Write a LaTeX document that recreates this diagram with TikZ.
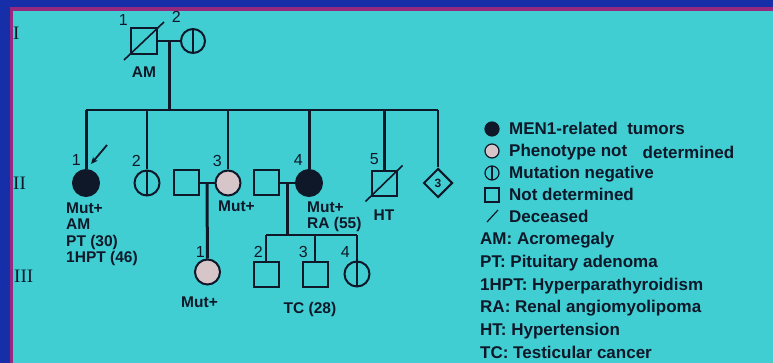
\documentclass[tikz,border=0pt]{standalone}
\usepackage{fontspec}
\setmainfont{Liberation Sans}
\newfontfamily\genfont{Liberation Serif}
\usetikzlibrary{arrows.meta,positioning,shapes.geometric}
\definecolor{pedbg}{RGB}{64,206,210}
\definecolor{pedframe}{RGB}{22,46,168}
\definecolor{pedrim}{RGB}{150,40,125}
\definecolor{pedink}{RGB}{14,24,40}
\definecolor{pedgrey}{RGB}{214,198,202}

\begin{document}
\begin{tikzpicture}[
    x=1pt, y=-1pt, color=pedink,
    male/.style={draw, rectangle, minimum size=25pt, inner sep=0pt, line width=2pt, fill=pedbg},
    female/.style={draw, circle, minimum size=25pt, inner sep=0pt, line width=2pt, fill=pedbg},
    affected/.style={female, fill=pedink},
    unknownfem/.style={female, fill=pedgrey},
    negfem/.style={female, path picture={\draw[line width=1.6pt] (path picture bounding box.north) -- (path picture bounding box.south);}},
    sibbox/.style={draw, diamond, minimum size=29pt, inner sep=0pt, line width=2pt, fill=pedbg, font=\fontsize{12}{12}\selectfont\bfseries},
    numlab/.style={inner sep=0pt, font=\fontsize{16}{16}\selectfont},
    trait/.style={inner sep=0pt, align=left, font=\fontsize{15.5}{16.5}\selectfont\bfseries},
    gen/.style={inner sep=0pt, anchor=west, font=\fontsize{19}{19}\selectfont\genfont},
    legtext/.style={inner sep=0pt, anchor=base west, font=\fontsize{17}{17}\selectfont\bfseries},
    kin/.style={line width=1.8pt},
    descent/.style={line width=3pt},
    deadslash/.style={line width=1.6pt},
    proband/.style={-{Stealth[length=7pt,width=6pt]}, line width=1.8pt}
]
\useasboundingbox (0,0) rectangle (773,363);
\fill[pedframe] (-5,-5) rectangle (780,370);
\fill[pedrim] (10,7) rectangle (780,370);
\fill[pedbg] (13,11) rectangle (780,370);

\node[gen] (genI) at (13,33) {I};
\node[gen] (genII) at (13,183) {II};
\node[gen] (genIII) at (14,276) {III};

\node[male, minimum size=26pt] (i1) at (144,41) {};
\node[negfem, minimum size=24pt] (i2) at (193,41) {};
\draw[deadslash] ([shift={(-6pt,-5pt)}]i1.south west) -- ([shift={(6pt,5pt)}]i1.north east);
\node[numlab, above left=1pt and 16pt of i1.north] {1};
\node[numlab, above left=5.5pt and 12pt of i2.north] {2};
\node[trait, below=11.5pt of i1] {AM};

\node[affected, minimum size=26pt] (f1) at (86,183) {};
\node[negfem] (f2) at (147,183) {};
\node[male] (h3) at (186,183) {};
\node[unknownfem] (f3) at (228,183) {};
\node[male] (h4) at (266,183) {};
\node[affected, minimum size=26pt] (f4) at (309,183) {};
\node[male] (m5) at (384,184) {};
\node[sibbox] (sib5) at (438,183) {3};
\draw[deadslash] ([shift={(-5pt,-4pt)}]m5.south west) -- ([shift={(5pt,5pt)}]m5.north east);
\node[numlab, above left=3pt and 5pt of f1.north] {1};
\node[numlab, above left=3pt and 6pt of f2.north] {2};
\node[numlab, above left=3pt and 6pt of f3.north] {3};
\node[numlab, above left=3pt and 6pt of f4.north] {4};
\node[numlab, above left=6pt and 5pt of m5.north] {5};
\node[trait, below right=5.5pt and -20pt of f1.south] {Mut+\\AM\\PT (30)\\1HPT (46)};
\node[trait, below right=4.5pt and -10pt of f3.south] {Mut+};
\node[trait, below right=4.5pt and -2pt of f4.south] {Mut+\\RA (55)};
\node[trait, below=12pt of m5] {HT};

\node[unknownfem] (c1) at (207.5,272) {};
\node[male] (c2) at (266,274) {};
\node[male] (c3) at (315,274) {};
\node[negfem] (c4) at (357,274) {};
\node[numlab, above left=1pt and 2.5pt of c1.north] {1};
\node[numlab, above left=3pt and 3pt of c2.north] {2};
\node[numlab, above left=3pt and 7pt of c3.north] {3};
\node[numlab, above left=3pt and 7pt of c4.north] {4};
\node[trait, below=11pt of c1, xshift=-8pt] {Mut+};
\node[trait, below=15pt of c3, xshift=-5pt] {TC (28)};

\coordinate (sibII) at (0,110);
\coordinate (sibIII) at (0,235);
\draw[kin] (i1) -- coordinate[midway] (mI) (i2);
\draw[descent] (mI) -- (mI |- sibII);
\draw[kin] (f1 |- sibII) -- (sib5 |- sibII);
\draw[descent] (f1 |- sibII) -- (f1);
\draw[kin] (f2 |- sibII) -- (f2);
\draw[kin] (f3 |- sibII) -- (f3);
\draw[descent] (f4 |- sibII) -- (f4);
\draw[descent] (m5 |- sibII) -- (m5);
\draw[kin] (sib5 |- sibII) -- (sib5);
\draw[kin] (h3) -- coordinate[midway] (mII3) (f3);
\draw[descent] (mII3) -- (c1);
\draw[kin] (h4) -- coordinate[midway] (mII4) (f4);
\draw[descent] (mII4) -- (mII4 |- sibIII);
\draw[kin] (c2 |- sibIII) -- (c4 |- sibIII);
\draw[kin] (c2 |- sibIII) -- (c2);
\draw[kin] (c3 |- sibIII) -- (c3);
\draw[kin] (c4 |- sibIII) -- (c4);
\coordinate (pb) at (107,145);
\draw[proband] (pb) -- ([shift={(5pt,5pt)}]f1.north);

\node[affected, minimum size=14pt, line width=1.2pt] (lg1) at (492,129) {};
\node[unknownfem, minimum size=14pt, line width=1.2pt] (lg2) at (492,151) {};
\node[negfem, minimum size=14pt, line width=1.2pt] (lg3) at (492,173) {};
\node[male, minimum size=14pt, line width=1.2pt] (lg4) at (492,195) {};
\coordinate (lg5) at (492,216);
\draw[deadslash, line width=1.2pt] ([shift={(-5pt,-6pt)}]lg5) -- ([shift={(6pt,6pt)}]lg5);
\node[legtext] (lt1) at (509,135) {MEN1-related~~tumors};
\node[legtext, below=22pt of lt1.base west, anchor=base west] (lt2) {Phenotype not};
\node[legtext, anchor=base west] (lt2b) at ([xshift=15pt,yshift=-2pt]lt2.base east) {determined};
\node[legtext, below=22pt of lt2.base west, anchor=base west] (lt3) {Mutation negative};
\node[legtext, below=22pt of lt3.base west, anchor=base west] (lt4) {Not determined};
\node[legtext, below=22pt of lt4.base west, anchor=base west] (lt5) {Deceased};
\node[legtext] (abAM) at (480,245) {AM: Acromegaly};
\node[legtext, below=22.6pt of abAM.base west, anchor=base west] (abPT) {PT: Pituitary adenoma};
\node[legtext, below=22.6pt of abPT.base west, anchor=base west] (abHPT) {1HPT: Hyperparathyroidism};
\node[legtext, below=22.6pt of abHPT.base west, anchor=base west] (abRA) {RA: Renal angiomyolipoma};
\node[legtext, below=22.6pt of abRA.base west, anchor=base west] (abHT) {HT: Hypertension};
\node[legtext, below=22.6pt of abHT.base west, anchor=base west] (abTC) {TC: Testicular cancer};
\end{tikzpicture}
\end{document}
